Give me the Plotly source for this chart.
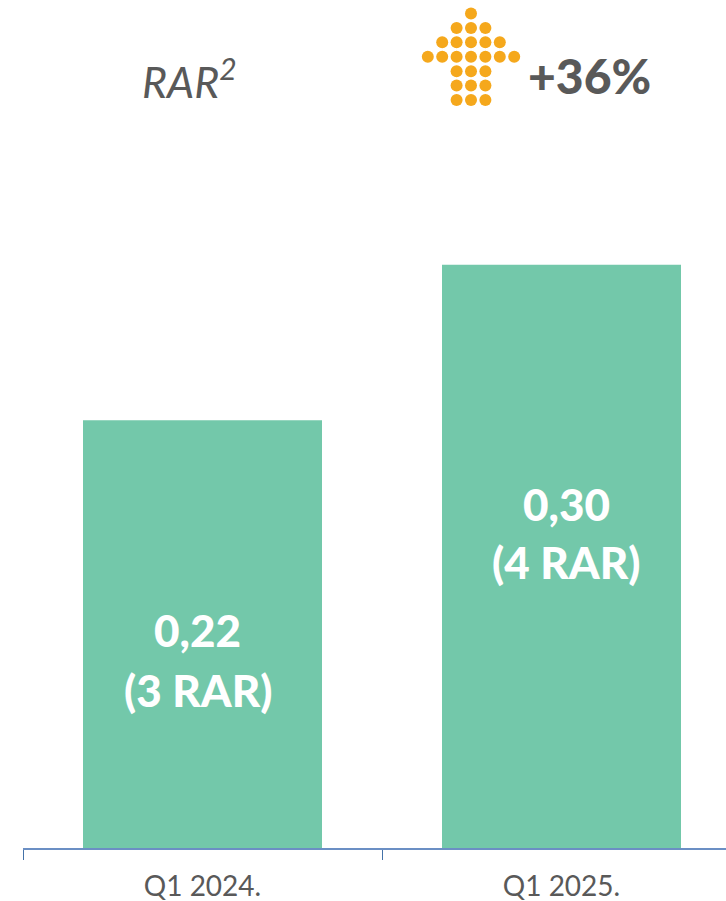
import plotly.graph_objects as go

W, H = 726, 901
categories = ["Q1 2024.", "Q1 2025."]
values = [0.22, 0.30]
value_labels = ["0,22", "0,30"]
count_labels = ["(3 RAR)", "(4 RAR)"]
arrow_rows = [1, 3, 5, 7, 3, 3, 3]

# pixel helpers for the layout only
px = lambda v: v / W
py = lambda v: 1 - v / H

FONT = "Lato"
GREY = "#595959"
BASE = 848
SLOT = 359
X0 = 23

arrow_x, arrow_y = [], []
for r, n in enumerate(arrow_rows):
    for c in range(n):
        arrow_x.append(c - (n - 1) / 2)
        arrow_y.append(r)

fig = go.Figure()
fig.add_trace(go.Bar(x=categories, y=values, marker=dict(color="#73C8AA", line_width=0),
                     hoverinfo="skip", showlegend=False))
fig.add_trace(go.Scatter(x=arrow_x, y=arrow_y, xaxis="x2", yaxis="y2", mode="markers",
                         marker=dict(size=12, color="#F5A81C", line_width=0),
                         hoverinfo="skip", showlegend=False))

def label(x, y, text, size, color, weight="normal", **kw):
    return dict(x=x, y=y, xref=kw.pop("xref", "paper"), yref="paper", text=text, showarrow=False,
                font=dict(family=FONT, size=size, color=color, weight=weight),
                xanchor="center", yanchor="middle", **kw)

annotations = [
    label(px(190), py(78), "<i>RAR<sup>2</sup></i>", 43, GREY),
    label(px(589), py(76), "+36%", 48, GREY, weight=900),
]
for cat, top, low, y1, y2, dx in zip(categories, value_labels, count_labels,
                                     [630, 504], [690, 562], [-5, 4.5]):
    annotations.append(label(cat, py(y1), top, 44, "white", weight=900, xref="x", xshift=dx))
    annotations.append(label(cat, py(y2), low, 44, "white", weight=900, xref="x", xshift=dx))

fig.update_layout(
    width=W, height=H, margin=dict(l=0, r=0, t=0, b=0, autoexpand=False),
    paper_bgcolor="white", plot_bgcolor="white",
    bargap=1 - 239 / SLOT, showlegend=False, annotations=annotations,
    xaxis=dict(domain=[px(X0), 1], type="category", range=[-0.5, -0.5 + (W - X0) / SLOT],
               automargin=False,
               showgrid=False, zeroline=False, showline=True, linecolor="#6B8FC4", linewidth=1.5,
               ticks="outside", tickson="boundaries", ticklen=10, tickcolor="#4472A8", tickwidth=1,
               ticklabelstandoff=13,
               tickfont=dict(family=FONT, size=28, color=GREY), anchor="y"),
    yaxis=dict(domain=[py(BASE), 1], range=[0, BASE / 1944], visible=False, fixedrange=True,
               automargin=False),
    xaxis2=dict(domain=[px(471 - 50.4), px(471 + 50.4)], range=[-3.5, 3.5], visible=False,
                anchor="y2", automargin=False),
    yaxis2=dict(domain=[py(107.2), py(6.3)], range=[6.5, -0.5], visible=False, anchor="x2",
                automargin=False),
)

fig.write_html("out.html", config=dict(displayModeBar=False),
               post_script="document.body.style.margin='0';document.body.style.overflow='hidden';")
